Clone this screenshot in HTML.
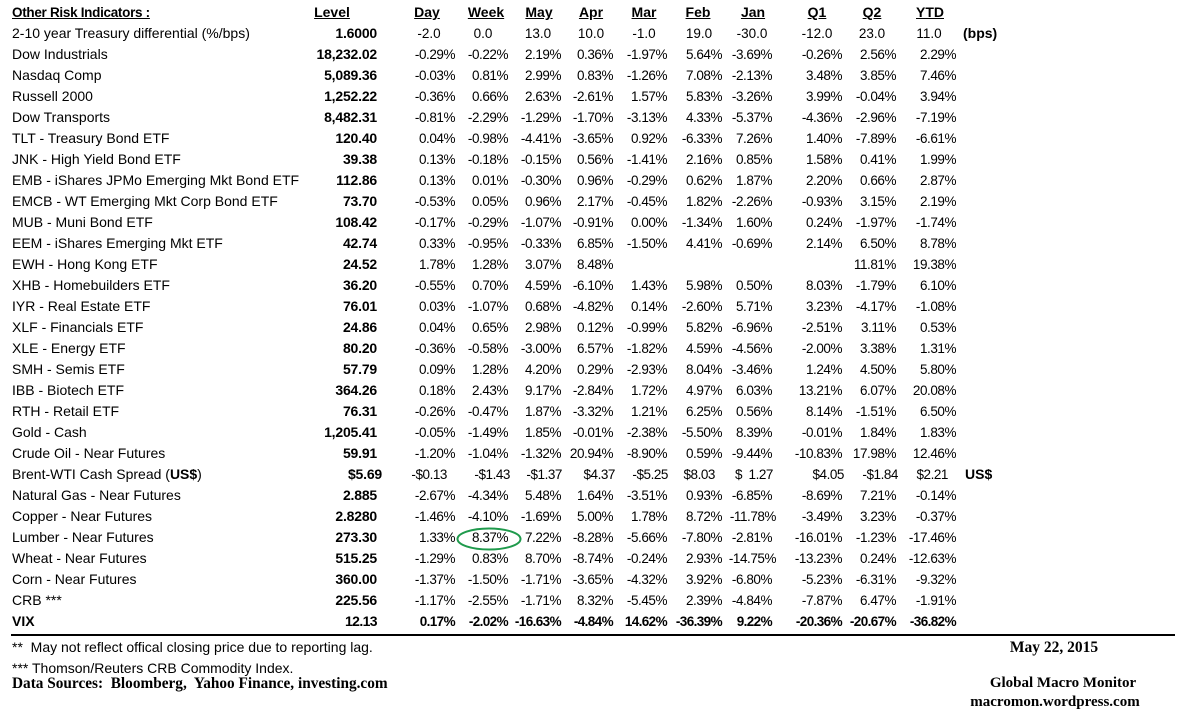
<!DOCTYPE html>
<html><head><meta charset="utf-8">
<style>
html,body{margin:0;padding:0;background:#fff;}
body{width:1177px;height:714px;position:relative;overflow:hidden;font-family:"Liberation Sans",Arial,sans-serif;color:#000;}
.r{position:absolute;left:0;width:1177px;height:21px;line-height:21px;font-size:14px;white-space:nowrap;}
.l{position:absolute;left:12px;}
.v{position:absolute;font-size:13.5px;letter-spacing:-0.45px;}
.c0{right:800px;font-weight:bold;font-size:14px;letter-spacing:-0.2px;}
.c1{right:722px}.c2{right:669px}.c3{right:616px}.c4{right:564px}.c5{right:510px}
.c6{right:455px}.c7{right:405px}.c8{right:335px}.c9{right:281px}.c10{right:221px}
.h{position:absolute;font-weight:bold;text-decoration:underline;transform:translateX(-50%);}
.m{position:absolute;font-size:13.5px;transform:translateX(-50%);}
.bold{font-weight:bold;}
.bold .v{letter-spacing:-0.6px;}
.ser{position:absolute;font-family:"Liberation Serif","Times New Roman",serif;font-weight:bold;font-size:15px;line-height:21px;white-space:nowrap;}
</style></head><body>

<div class="r" style="top:2px"><span class="l" style="font-weight:bold;text-decoration:underline;font-size:13.5px;letter-spacing:-0.3px">Other Risk Indicators :</span><span class="h" style="left:332px">Level</span><span class="h" style="left:427px">Day</span><span class="h" style="left:486px">Week</span><span class="h" style="left:539px">May</span><span class="h" style="left:591px">Apr</span><span class="h" style="left:644px">Mar</span><span class="h" style="left:698px">Feb</span><span class="h" style="left:753px">Jan</span><span class="h" style="left:817px">Q1</span><span class="h" style="left:872px">Q2</span><span class="h" style="left:930px">YTD</span></div>

<div class="r" style="top:23px"><span class="l">2-10 year Treasury differential (%/bps)</span><span class="v c0">1.6000</span><span class="m" style="left:429px">-2.0</span><span class="m" style="left:483px">0.0</span><span class="m" style="left:538px">13.0</span><span class="m" style="left:591px">10.0</span><span class="m" style="left:644px">-1.0</span><span class="m" style="left:699px">19.0</span><span class="m" style="left:752px">-30.0</span><span class="m" style="left:817px">-12.0</span><span class="m" style="left:872px">23.0</span><span class="m" style="left:929px">11.0</span><span style="position:absolute;left:963px;font-weight:bold">(bps)</span></div>

<div class="r" style="top:44px"><span class="l">Dow Industrials</span><span class="v c0">18,232.02</span><span class="v c1">-0.29%</span><span class="v c2">-0.22%</span><span class="v c3">2.19%</span><span class="v c4">0.36%</span><span class="v c5">-1.97%</span><span class="v c6">5.64%</span><span class="v c7">-3.69%</span><span class="v c8">-0.26%</span><span class="v c9">2.56%</span><span class="v c10">2.29%</span></div>

<div class="r" style="top:65px"><span class="l">Nasdaq Comp</span><span class="v c0">5,089.36</span><span class="v c1">-0.03%</span><span class="v c2">0.81%</span><span class="v c3">2.99%</span><span class="v c4">0.83%</span><span class="v c5">-1.26%</span><span class="v c6">7.08%</span><span class="v c7">-2.13%</span><span class="v c8">3.48%</span><span class="v c9">3.85%</span><span class="v c10">7.46%</span></div>

<div class="r" style="top:86px"><span class="l">Russell 2000</span><span class="v c0">1,252.22</span><span class="v c1">-0.36%</span><span class="v c2">0.66%</span><span class="v c3">2.63%</span><span class="v c4">-2.61%</span><span class="v c5">1.57%</span><span class="v c6">5.83%</span><span class="v c7">-3.26%</span><span class="v c8">3.99%</span><span class="v c9">-0.04%</span><span class="v c10">3.94%</span></div>

<div class="r" style="top:107px"><span class="l">Dow Transports</span><span class="v c0">8,482.31</span><span class="v c1">-0.81%</span><span class="v c2">-2.29%</span><span class="v c3">-1.29%</span><span class="v c4">-1.70%</span><span class="v c5">-3.13%</span><span class="v c6">4.33%</span><span class="v c7">-5.37%</span><span class="v c8">-4.36%</span><span class="v c9">-2.96%</span><span class="v c10">-7.19%</span></div>

<div class="r" style="top:128px"><span class="l">TLT - Treasury Bond ETF</span><span class="v c0">120.40</span><span class="v c1">0.04%</span><span class="v c2">-0.98%</span><span class="v c3">-4.41%</span><span class="v c4">-3.65%</span><span class="v c5">0.92%</span><span class="v c6">-6.33%</span><span class="v c7">7.26%</span><span class="v c8">1.40%</span><span class="v c9">-7.89%</span><span class="v c10">-6.61%</span></div>

<div class="r" style="top:149px"><span class="l">JNK - High Yield Bond ETF</span><span class="v c0">39.38</span><span class="v c1">0.13%</span><span class="v c2">-0.18%</span><span class="v c3">-0.15%</span><span class="v c4">0.56%</span><span class="v c5">-1.41%</span><span class="v c6">2.16%</span><span class="v c7">0.85%</span><span class="v c8">1.58%</span><span class="v c9">0.41%</span><span class="v c10">1.99%</span></div>

<div class="r" style="top:170px"><span class="l">EMB - iShares JPMo Emerging Mkt Bond ETF</span><span class="v c0">112.86</span><span class="v c1">0.13%</span><span class="v c2">0.01%</span><span class="v c3">-0.30%</span><span class="v c4">0.96%</span><span class="v c5">-0.29%</span><span class="v c6">0.62%</span><span class="v c7">1.87%</span><span class="v c8">2.20%</span><span class="v c9">0.66%</span><span class="v c10">2.87%</span></div>

<div class="r" style="top:191px"><span class="l">EMCB - WT Emerging Mkt Corp Bond ETF</span><span class="v c0">73.70</span><span class="v c1">-0.53%</span><span class="v c2">0.05%</span><span class="v c3">0.96%</span><span class="v c4">2.17%</span><span class="v c5">-0.45%</span><span class="v c6">1.82%</span><span class="v c7">-2.26%</span><span class="v c8">-0.93%</span><span class="v c9">3.15%</span><span class="v c10">2.19%</span></div>

<div class="r" style="top:212px"><span class="l">MUB - Muni Bond ETF</span><span class="v c0">108.42</span><span class="v c1">-0.17%</span><span class="v c2">-0.29%</span><span class="v c3">-1.07%</span><span class="v c4">-0.91%</span><span class="v c5">0.00%</span><span class="v c6">-1.34%</span><span class="v c7">1.60%</span><span class="v c8">0.24%</span><span class="v c9">-1.97%</span><span class="v c10">-1.74%</span></div>

<div class="r" style="top:233px"><span class="l">EEM - iShares Emerging Mkt ETF</span><span class="v c0">42.74</span><span class="v c1">0.33%</span><span class="v c2">-0.95%</span><span class="v c3">-0.33%</span><span class="v c4">6.85%</span><span class="v c5">-1.50%</span><span class="v c6">4.41%</span><span class="v c7">-0.69%</span><span class="v c8">2.14%</span><span class="v c9">6.50%</span><span class="v c10">8.78%</span></div>

<div class="r" style="top:254px"><span class="l">EWH - Hong Kong ETF</span><span class="v c0">24.52</span><span class="v c1">1.78%</span><span class="v c2">1.28%</span><span class="v c3">3.07%</span><span class="v c4">8.48%</span><span class="v c9">11.81%</span><span class="v c10">19.38%</span></div>

<div class="r" style="top:275px"><span class="l">XHB - Homebuilders ETF</span><span class="v c0">36.20</span><span class="v c1">-0.55%</span><span class="v c2">0.70%</span><span class="v c3">4.59%</span><span class="v c4">-6.10%</span><span class="v c5">1.43%</span><span class="v c6">5.98%</span><span class="v c7">0.50%</span><span class="v c8">8.03%</span><span class="v c9">-1.79%</span><span class="v c10">6.10%</span></div>

<div class="r" style="top:296px"><span class="l">IYR - Real Estate ETF</span><span class="v c0">76.01</span><span class="v c1">0.03%</span><span class="v c2">-1.07%</span><span class="v c3">0.68%</span><span class="v c4">-4.82%</span><span class="v c5">0.14%</span><span class="v c6">-2.60%</span><span class="v c7">5.71%</span><span class="v c8">3.23%</span><span class="v c9">-4.17%</span><span class="v c10">-1.08%</span></div>

<div class="r" style="top:317px"><span class="l">XLF - Financials ETF</span><span class="v c0">24.86</span><span class="v c1">0.04%</span><span class="v c2">0.65%</span><span class="v c3">2.98%</span><span class="v c4">0.12%</span><span class="v c5">-0.99%</span><span class="v c6">5.82%</span><span class="v c7">-6.96%</span><span class="v c8">-2.51%</span><span class="v c9">3.11%</span><span class="v c10">0.53%</span></div>

<div class="r" style="top:338px"><span class="l">XLE - Energy ETF</span><span class="v c0">80.20</span><span class="v c1">-0.36%</span><span class="v c2">-0.58%</span><span class="v c3">-3.00%</span><span class="v c4">6.57%</span><span class="v c5">-1.82%</span><span class="v c6">4.59%</span><span class="v c7">-4.56%</span><span class="v c8">-2.00%</span><span class="v c9">3.38%</span><span class="v c10">1.31%</span></div>

<div class="r" style="top:359px"><span class="l">SMH - Semis ETF</span><span class="v c0">57.79</span><span class="v c1">0.09%</span><span class="v c2">1.28%</span><span class="v c3">4.20%</span><span class="v c4">0.29%</span><span class="v c5">-2.93%</span><span class="v c6">8.04%</span><span class="v c7">-3.46%</span><span class="v c8">1.24%</span><span class="v c9">4.50%</span><span class="v c10">5.80%</span></div>

<div class="r" style="top:380px"><span class="l">IBB - Biotech ETF</span><span class="v c0">364.26</span><span class="v c1">0.18%</span><span class="v c2">2.43%</span><span class="v c3">9.17%</span><span class="v c4">-2.84%</span><span class="v c5">1.72%</span><span class="v c6">4.97%</span><span class="v c7">6.03%</span><span class="v c8">13.21%</span><span class="v c9">6.07%</span><span class="v c10">20.08%</span></div>

<div class="r" style="top:401px"><span class="l">RTH - Retail ETF</span><span class="v c0">76.31</span><span class="v c1">-0.26%</span><span class="v c2">-0.47%</span><span class="v c3">1.87%</span><span class="v c4">-3.32%</span><span class="v c5">1.21%</span><span class="v c6">6.25%</span><span class="v c7">0.56%</span><span class="v c8">8.14%</span><span class="v c9">-1.51%</span><span class="v c10">6.50%</span></div>

<div class="r" style="top:422px"><span class="l">Gold - Cash</span><span class="v c0">1,205.41</span><span class="v c1">-0.05%</span><span class="v c2">-1.49%</span><span class="v c3">1.85%</span><span class="v c4">-0.01%</span><span class="v c5">-2.38%</span><span class="v c6">-5.50%</span><span class="v c7">8.39%</span><span class="v c8">-0.01%</span><span class="v c9">1.84%</span><span class="v c10">1.83%</span></div>

<div class="r" style="top:443px"><span class="l">Crude Oil - Near Futures</span><span class="v c0">59.91</span><span class="v c1">-1.20%</span><span class="v c2">-1.04%</span><span class="v c3">-1.32%</span><span class="v c4">20.94%</span><span class="v c5">-8.90%</span><span class="v c6">0.59%</span><span class="v c7">-9.44%</span><span class="v c8">-10.83%</span><span class="v c9">17.98%</span><span class="v c10">12.46%</span></div>

<div class="r" style="top:464px"><span class="l">Brent-WTI Cash Spread (<b>US$</b>)</span><span class="v" style="right:795px;font-weight:bold;font-size:14px;letter-spacing:-0.2px">$5.69</span><span class="v" style="right:730px">-$0.13</span><span class="v" style="right:667px">-$1.43</span><span class="v" style="right:615px">-$1.37</span><span class="v" style="right:562px">$4.37</span><span class="v" style="right:509px">-$5.25</span><span class="v" style="right:462px">$8.03</span><span class="v" style="left:735px">$</span><span class="v" style="right:404px">1.27</span><span class="v" style="right:333px">$4.05</span><span class="v" style="right:279px">-$1.84</span><span class="v" style="right:229px">$2.21</span><span style="position:absolute;left:965px;font-weight:bold">US$</span></div>

<div class="r" style="top:485px"><span class="l">Natural Gas - Near Futures</span><span class="v c0">2.885</span><span class="v c1">-2.67%</span><span class="v c2">-4.34%</span><span class="v c3">5.48%</span><span class="v c4">1.64%</span><span class="v c5">-3.51%</span><span class="v c6">0.93%</span><span class="v c7">-6.85%</span><span class="v c8">-8.69%</span><span class="v c9">7.21%</span><span class="v c10">-0.14%</span></div>

<div class="r" style="top:506px"><span class="l">Copper - Near Futures</span><span class="v c0">2.8280</span><span class="v c1">-1.46%</span><span class="v c2">-4.10%</span><span class="v c3">-1.69%</span><span class="v c4">5.00%</span><span class="v c5">1.78%</span><span class="v c6">8.72%</span><span class="v c7" style="right:401px">-11.78%</span><span class="v c8">-3.49%</span><span class="v c9">3.23%</span><span class="v c10">-0.37%</span></div>

<div class="r" style="top:527px"><span class="l">Lumber - Near Futures</span><span class="v c0">273.30</span><span class="v c1">1.33%</span><span class="v c2">8.37%</span><span class="v c3">7.22%</span><span class="v c4">-8.28%</span><span class="v c5">-5.66%</span><span class="v c6">-7.80%</span><span class="v c7">-2.81%</span><span class="v c8">-16.01%</span><span class="v c9">-1.23%</span><span class="v c10">-17.46%</span></div>

<div class="r" style="top:548px"><span class="l">Wheat - Near Futures</span><span class="v c0">515.25</span><span class="v c1">-1.29%</span><span class="v c2">0.83%</span><span class="v c3">8.70%</span><span class="v c4">-8.74%</span><span class="v c5">-0.24%</span><span class="v c6">2.93%</span><span class="v c7" style="right:401px">-14.75%</span><span class="v c8">-13.23%</span><span class="v c9">0.24%</span><span class="v c10">-12.63%</span></div>

<div class="r" style="top:569px"><span class="l">Corn - Near Futures</span><span class="v c0">360.00</span><span class="v c1">-1.37%</span><span class="v c2">-1.50%</span><span class="v c3">-1.71%</span><span class="v c4">-3.65%</span><span class="v c5">-4.32%</span><span class="v c6">3.92%</span><span class="v c7">-6.80%</span><span class="v c8">-5.23%</span><span class="v c9">-6.31%</span><span class="v c10">-9.32%</span></div>

<div class="r" style="top:590px"><span class="l">CRB ***</span><span class="v c0">225.56</span><span class="v c1">-1.17%</span><span class="v c2">-2.55%</span><span class="v c3">-1.71%</span><span class="v c4">8.32%</span><span class="v c5">-5.45%</span><span class="v c6">2.39%</span><span class="v c7">-4.84%</span><span class="v c8">-7.87%</span><span class="v c9">6.47%</span><span class="v c10">-1.91%</span></div>

<div class="r bold" style="top:611px"><span class="l">VIX</span><span class="v c0">12.13</span><span class="v c1">0.17%</span><span class="v c2">-2.02%</span><span class="v c3">-16.63%</span><span class="v c4">-4.84%</span><span class="v c5">14.62%</span><span class="v c6">-36.39%</span><span class="v c7">9.22%</span><span class="v c8">-20.36%</span><span class="v c9">-20.67%</span><span class="v c10">-36.82%</span></div>

<svg style="position:absolute;left:0;top:0" width="1177" height="714">
<ellipse cx="489" cy="539" rx="31.5" ry="10.5" fill="none" stroke="#1f9a4c" stroke-width="2"/>
</svg>

<div style="position:absolute;left:11px;top:634px;width:1164px;height:2px;background:#000"></div>

<div class="r" style="top:637px"><span class="l">**&nbsp; May not reflect offical closing price due to reporting lag.</span></div>
<div class="r" style="top:658px"><span class="l">*** Thomson/Reuters CRB Commodity Index.</span></div>
<div class="ser" style="left:12px;top:673px;font-size:15.3px">Data Sources:&nbsp; Bloomberg,&nbsp; Yahoo Finance, investing.com</div>

<div class="ser" style="left:1054px;top:637px;transform:translateX(-50%);font-size:15.5px">May 22, 2015</div>
<div class="ser" style="left:1063px;top:673px;transform:translateX(-50%)">Global Macro Monitor</div>
<div class="ser" style="left:1055px;top:692px;transform:translateX(-50%)">macromon.wordpress.com</div>

</body></html>
